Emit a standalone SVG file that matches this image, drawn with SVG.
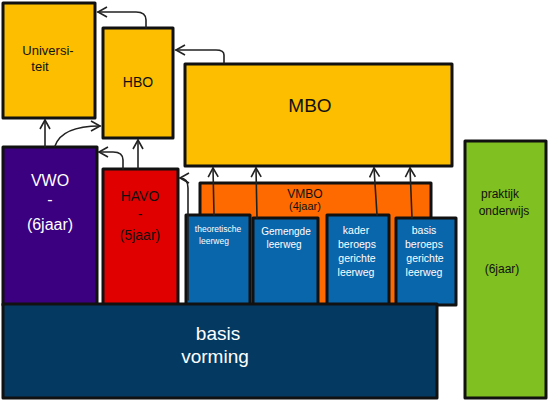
<svg xmlns="http://www.w3.org/2000/svg" width="550" height="402" viewBox="0 0 550 402">
<style>
.box{stroke:#111;stroke-width:3;stroke-linejoin:round}
.y{fill:#FDBE00}
.t{font-family:"Liberation Sans","DejaVu Sans",sans-serif;text-anchor:middle}
.dk{fill:#111}
.wh{fill:#fff}
.con{fill:none;stroke:#222;stroke-width:1.6;stroke-linecap:round;stroke-linejoin:round}
</style>
<defs>
<marker id="ah" viewBox="0 0 12 12" refX="10" refY="6" markerWidth="12" markerHeight="12" markerUnits="userSpaceOnUse" orient="auto">
<path d="M1,1 L10,6 L1,11" fill="none" stroke="#222" stroke-width="1.6"/>
</marker>
</defs>
<rect width="550" height="402" fill="#fff"/>

<g id="universiteit">
<rect class="box y" x="3" y="3" width="92" height="115"/>
<text class="t dk" x="48" y="55" font-size="13">Universi-</text>
<text class="t dk" x="40" y="71" font-size="13">teit</text>
</g>
<g id="hbo">
<rect class="box y" x="103" y="28" width="70" height="110"/>
<text class="t dk" x="138" y="87" font-size="14">HBO</text>
</g>
<g id="mbo">
<rect class="box y" x="185" y="64" width="267" height="102"/>
<text class="t dk" x="310" y="112" font-size="19">MBO</text>
</g>
<g id="vwo">
<rect class="box" fill="#3A0080" x="3" y="147" width="94" height="158"/>
<text class="t wh" x="50" y="186" font-size="16">VWO</text>
<text class="t wh" x="50" y="205" font-size="16">-</text>
<text class="t wh" x="50" y="230" font-size="16">(6jaar)</text>
</g>
<g id="havo">
<rect class="box" fill="#E00000" x="103" y="169" width="75" height="136"/>
<text class="t dk" x="140" y="201" font-size="14">HAVO</text>
<text class="t dk" x="140" y="219" font-size="14">-</text>
<text class="t dk" x="140" y="240" font-size="14">(5jaar)</text>
</g>
<g id="vmbo">
<path class="box" fill="#FF6A00" d="M200,183 L431,183 L431,305 L200,305 Z"/>
<text class="t dk" x="305" y="198" font-size="12">VMBO</text>
<text class="t dk" x="305" y="210" font-size="11">(4jaar)</text>
</g>
<g id="theoretische">
<rect class="box" fill="#0A66AA" x="186" y="215" width="64" height="90"/>
<text class="t wh" x="218" y="232" font-size="8.5">theoretische</text>
<text class="t wh" x="214" y="244" font-size="8.5">leerweg</text>
</g>
<g id="gemengde">
<rect class="box" fill="#0A66AA" x="253" y="218" width="65" height="87"/>
<text class="t wh" x="286" y="235" font-size="10">Gemengde</text>
<text class="t wh" x="284" y="248" font-size="10">leerweg</text>
</g>
<g id="kader">
<rect class="box" fill="#0A66AA" x="327" y="215" width="62" height="90"/>
<text class="t wh" x="356" y="234" font-size="10.5">kader</text>
<text class="t wh" x="357" y="248" font-size="10.5">beroeps</text>
<text class="t wh" x="357" y="262" font-size="10.5">gerichte</text>
<text class="t wh" x="356" y="276" font-size="10.5">leerweg</text>
</g>
<g id="basisberoeps">
<rect class="box" fill="#0A66AA" x="396" y="218" width="60" height="87"/>
<text class="t wh" x="424" y="234" font-size="10.5">basis</text>
<text class="t wh" x="424" y="248" font-size="10.5">beroeps</text>
<text class="t wh" x="425" y="262" font-size="10.5">gerichte</text>
<text class="t wh" x="424" y="276" font-size="10.5">leerweg</text>
</g>
<g id="praktijk">
<rect class="box" fill="#80C020" x="465" y="141" width="81" height="257"/>
<text class="t dk" x="500" y="198" font-size="12">praktijk</text>
<text class="t dk" x="504" y="215" font-size="12">onderwijs</text>
<text class="t dk" x="502" y="273" font-size="12">(6jaar)</text>
</g>
<g id="basisvorming">
<rect class="box" fill="#043A62" x="3" y="304" width="434" height="94"/>
<text class="t wh" x="218" y="340" font-size="19">basis</text>
<text class="t wh" x="215" y="363" font-size="19">vorming</text>
</g>

<g id="connectors">
<path class="con" marker-end="url(#ah)" d="M146,28 L146,20 Q146,12 136,12 L98,12"/>
<path class="con" marker-end="url(#ah)" d="M224,63 L224,55 Q224,50 216,50 L176,50"/>
<path class="con" marker-end="url(#ah)" d="M45,147 L45,120"/>
<path class="con" marker-end="url(#ah)" d="M55,146 Q62,126 100,126"/>
<path class="con" marker-end="url(#ah)" d="M138,169 L138,140"/>
<path class="con" marker-end="url(#ah)" d="M123,169 L123,160 Q123,152 113,152 L99,152"/>
<path class="con" marker-end="url(#ah)" d="M188,300 L188,188 Q188,178 180,178"/>
<path class="con" marker-end="url(#ah)" d="M214,215 L213,168"/>
<path class="con" marker-end="url(#ah)" d="M257,218 L256,168"/>
<path class="con" marker-end="url(#ah)" d="M377,215 L374,168"/>
<path class="con" marker-end="url(#ah)" d="M412,218 L410,168"/>
</g>
</svg>
